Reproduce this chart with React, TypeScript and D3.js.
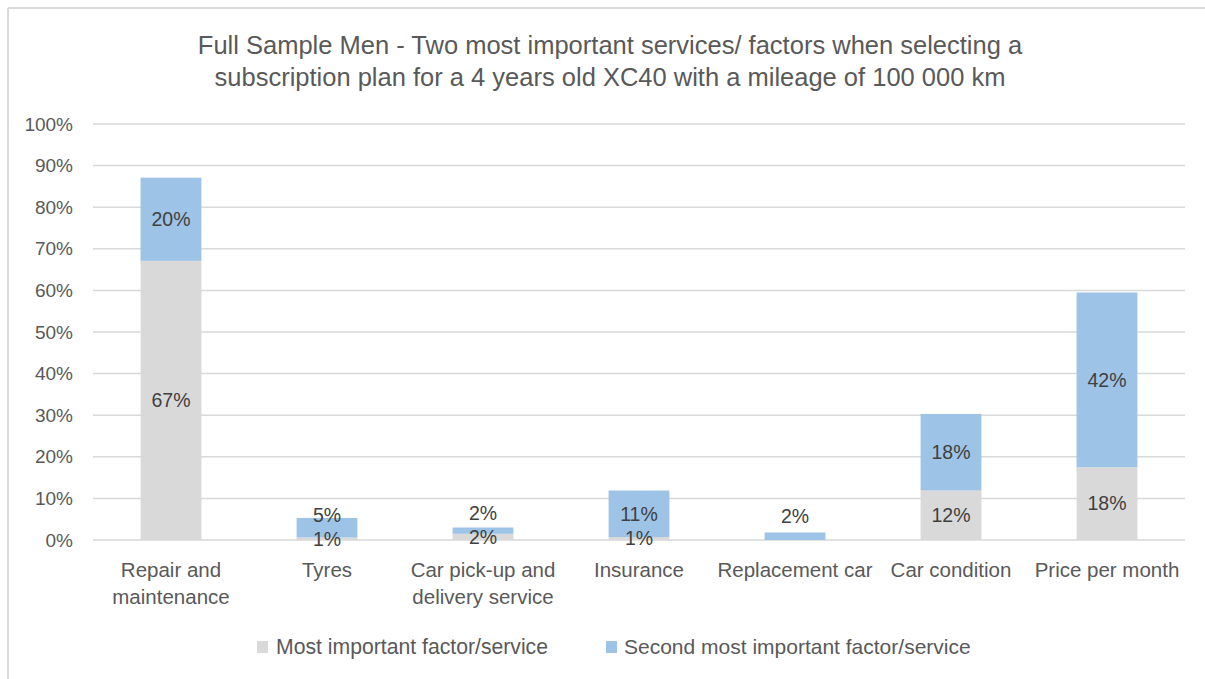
import React from "react";
import * as d3 from "d3";

const categories: string[][] = [
  ["Repair and", "maintenance"],
  ["Tyres"],
  ["Car pick-up and", "delivery service"],
  ["Insurance"],
  ["Replacement car"],
  ["Car condition"],
  ["Price per month"],
];
const mostImportant: number[] = [67.1, 0.6, 1.5, 0.7, 0, 11.9, 17.5];
const secondImportant: number[] = [20.0, 4.7, 1.5, 11.2, 1.8, 18.4, 42.0];
const yTicks: number[] = [0, 10, 20, 30, 40, 50, 60, 70, 80, 90, 100];
const seriesNames: string[] = ["Most important factor/service", "Second most important factor/service"];
const titleLines: string[] = [
  "Full Sample Men - Two most important services/ factors when selecting a",
  "subscription plan for a 4 years old XC40 with a mileage of 100 000 km",
];

const W = 1205;
const H = 679;
const FONT = "'Liberation Sans', Arial, sans-serif";
const TEXT = "#595959";
const GRAY = "#D9D9D9";
const BLUE = "#9DC3E6";
const GRID = "#D9D9D9";

export default function App() {
  const plotLeft = 93;
  const plotRight = 1185;
  const y = d3.scaleLinear().domain([0, 100]).range([540, 124]);
  const x = d3
    .scaleBand<number>()
    .domain(categories.map((_, i) => i))
    .range([plotLeft, plotRight])
    .paddingInner(0.61)
    .paddingOuter(0.305);

  const stacked = d3
    .stack<number>()
    .keys(["a", "b"])
    .value((i, key) => (key === "a" ? mostImportant[i] : secondImportant[i]))(
    categories.map((_, i) => i)
  );

  const y0 = y(0);

  return (
    <svg
      width={W}
      height={H}
      style={{ position: "absolute", left: 0, top: 0, background: "#fff" }}
      fontFamily={FONT}
    >
      {/* chart border */}
      <line x1={8} y1={8} x2={W} y2={8} stroke="#D9D9D9" strokeWidth={2} />
      <line x1={8} y1={8} x2={8} y2={H} stroke="#D9D9D9" strokeWidth={2} />

      {/* title */}
      {titleLines.map((t, i) => (
        <text
          key={i}
          x={610}
          y={54 + i * 32}
          textAnchor="middle"
          fontSize={25.5}
          fill={TEXT}
        >
          {t}
        </text>
      ))}

      {/* gridlines & ticks */}
      {yTicks.map((t) => (
        <g key={t}>
          <line x1={plotLeft} x2={plotRight} y1={y(t)} y2={y(t)} stroke={GRID} strokeWidth={1.5} />
          <text x={73} y={y(t)} dy="0.35em" textAnchor="end" fontSize={19} fill={TEXT}>
            {t + "%"}
          </text>
        </g>
      ))}

      {/* bars */}
      {stacked.map((s, si) =>
        s.map((d, i) => (
          <rect
            key={si + "-" + i}
            x={x(i)!}
            width={x.bandwidth()}
            y={y(d[1])}
            height={Math.max(0, y(d[0]) - y(d[1]))}
            fill={si === 0 ? GRAY : BLUE}
          />
        ))
      )}

      {/* data labels */}
      {categories.map((_, i) => {
        const cx = x(i)! + x.bandwidth() / 2;
        const a = mostImportant[i];
        const b = secondImportant[i];
        const grayCenter = a > 0 ? (y(0) + y(a)) / 2 : y0;
        const blueCenter = (y(a) + y(a + b)) / 2;
        const blueY = Math.min(blueCenter, grayCenter - 24);
        return (
          <g key={i} fontSize={19.5} fill="#404040" textAnchor="middle">
            {a > 0 && (
              <text x={cx} y={grayCenter} dy="0.35em">
                {Math.round(a) + "%"}
              </text>
            )}
            {b > 0 && (
              <text x={cx} y={blueY} dy="0.35em">
                {Math.round(b) + "%"}
              </text>
            )}
          </g>
        );
      })}

      {/* category labels */}
      {categories.map((lines, i) => (
        <text
          key={i}
          x={x(i)! + x.bandwidth() / 2}
          textAnchor="middle"
          fontSize={20.5}
          fill={TEXT}
        >
          {lines.map((l, j) => (
            <tspan key={j} x={x(i)! + x.bandwidth() / 2} y={577 + j * 27}>
              {l}
            </tspan>
          ))}
        </text>
      ))}

      {/* legend */}
      <rect x={257} y={641} width={11} height={12} fill={GRAY} />
      <text x={276} y={654} fontSize={21.2} fill={TEXT}>
        {seriesNames[0]}
      </text>
      <rect x={606} y={641} width={11} height={12} fill={BLUE} />
      <text x={624} y={654} fontSize={21} fill={TEXT}>
        {seriesNames[1]}
      </text>
    </svg>
  );
}
